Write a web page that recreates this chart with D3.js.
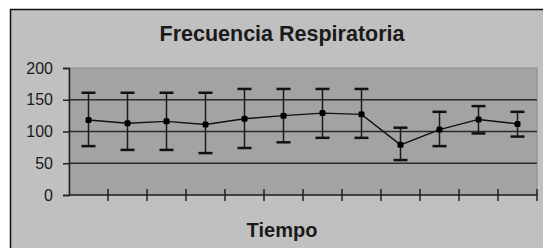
<html>
  <head>
    <script src="https://d3js.org/d3.v7.min.js"></script>
    <style>
      body { margin: 0; background: #fff; }
      text { font-family: "Liberation Sans", Arial, sans-serif; fill: #1a1a1a; }
    </style>
  </head>
  <body>
    <svg id="chart" width="543" height="248"></svg>
    <script>
      // one point per time interval, no labels on the x axis
      let periods = [1, 2, 3, 4, 5, 6, 7, 8, 9, 10, 11, 12];
      let means = [118, 113, 116, 111, 120, 125, 129, 127, 79, 103, 119, 112];
      let upper = [161, 161, 161, 161, 167, 167, 167, 167, 106, 131, 140, 131];
      let lower = [77, 71, 71, 66, 74, 83, 90, 90, 55, 77, 97, 92];
      let yTicks = [0, 50, 100, 150, 200];

      let data = periods.map((p, i) => ({ p: p, m: means[i], hi: upper[i], lo: lower[i] }));

      svg = d3.select("svg#chart");

      // chart frame (runs off the right and bottom of the picture)
      svg.append("rect")
        .attr("x", 10.5).attr("y", 9.5)
        .attr("width", 560).attr("height", 300)
        .attr("fill", "#c0c0c0")
        .attr("stroke", "#111")
        .attr("stroke-width", 1.5);

      let plotL = 69, plotR = 537, plotT = 68, plotB = 195;

      let x = d3.scaleBand().domain(periods).range([plotL, plotR]);
      let y = d3.scaleLinear().domain([0, 200]).range([plotB, plotT]);

      // plot area
      svg.append("rect")
        .attr("x", plotL).attr("y", plotT)
        .attr("width", plotR - plotL).attr("height", plotB - plotT)
        .attr("fill", "#a3a3a3")
        .attr("stroke", "#8a8a8a")
        .attr("stroke-width", 1);

      // horizontal gridlines
      svg.append("g")
        .selectAll("line")
        .data(yTicks.filter((d) => d > 0 && d < 200))
        .join("line")
        .attr("x1", plotL).attr("x2", plotR)
        .attr("y1", (d) => y(d)).attr("y2", (d) => y(d))
        .attr("stroke", "#2b2b2b")
        .attr("stroke-width", 1.5);

      // y axis
      let yAxis = svg.append("g")
        .attr("transform", `translate(${plotL},0)`)
        .call(d3.axisLeft(y).tickValues(yTicks).tickSize(6).tickPadding(10));
      yAxis.select(".domain").attr("stroke", "#222").attr("stroke-width", 1.5);
      yAxis.selectAll(".tick line").attr("stroke", "#222").attr("stroke-width", 1.5);
      yAxis.selectAll("text")
        .attr("font-size", 16)
        .attr("fill", "#1a1a1a")
        .attr("font-family", "Liberation Sans, Arial, sans-serif");

      // x axis: line with cross ticks on the band edges
      let edges = periods.map((p) => x(p)).concat([plotR]);
      svg.append("line")
        .attr("x1", plotL).attr("x2", plotR)
        .attr("y1", plotB).attr("y2", plotB)
        .attr("stroke", "#222").attr("stroke-width", 1.5);
      svg.append("g")
        .selectAll("line")
        .data(edges.slice(1))
        .join("line")
        .attr("x1", (d) => d).attr("x2", (d) => d)
        .attr("y1", plotB - 6).attr("y2", plotB + 6)
        .attr("stroke", "#222").attr("stroke-width", 1.5);

      let cx = (d) => x(d.p) + x.bandwidth() / 2;

      // error bars
      let bars = svg.append("g").selectAll("g").data(data).join("g");
      bars.append("line")
        .attr("x1", cx).attr("x2", cx)
        .attr("y1", (d) => y(d.hi)).attr("y2", (d) => y(d.lo))
        .attr("stroke", "#1a1a1a").attr("stroke-width", 1.5);
      ["hi", "lo"].forEach((k) => {
        bars.append("line")
          .attr("x1", (d) => cx(d) - 7).attr("x2", (d) => cx(d) + 7)
          .attr("y1", (d) => y(d[k])).attr("y2", (d) => y(d[k]))
          .attr("stroke", "#111").attr("stroke-width", 2.5);
      });

      // mean line and markers
      svg.append("path")
        .datum(data)
        .attr("fill", "none")
        .attr("stroke", "#111")
        .attr("stroke-width", 1.4)
        .attr("d", d3.line().x(cx).y((d) => y(d.m)));

      svg.append("g")
        .selectAll("rect")
        .data(data)
        .join("rect")
        .attr("x", (d) => cx(d) - 3)
        .attr("y", (d) => y(d.m) - 3)
        .attr("width", 6).attr("height", 6)
        .attr("rx", 1.5)
        .attr("fill", "#000");

      // titles
      svg.append("text")
        .attr("x", 282).attr("y", 41)
        .attr("text-anchor", "middle")
        .attr("font-size", 21.5)
        .attr("font-weight", "bold")
        .text("Frecuencia Respiratoria");

      svg.append("text")
        .attr("x", 282).attr("y", 237)
        .attr("text-anchor", "middle")
        .attr("font-size", 20)
        .attr("font-weight", "bold")
        .text("Tiempo");
    </script>
  </body>
</html>
